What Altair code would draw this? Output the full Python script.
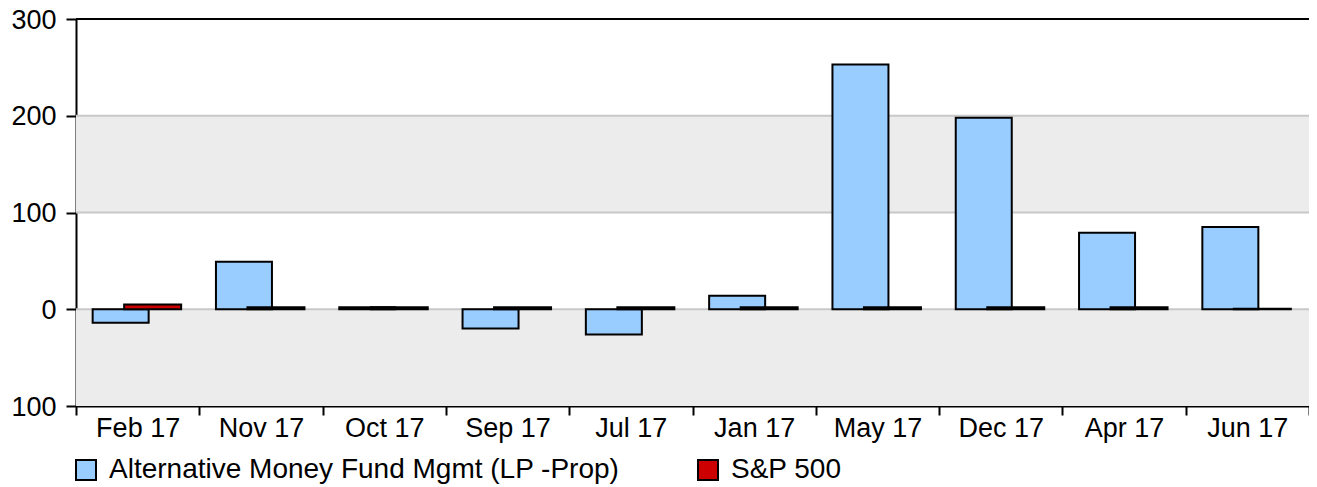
import altair as alt
import pandas as pd

categories = ["Feb 17", "Nov 17", "Oct 17", "Sep 17", "Jul 17", "Jan 17", "May 17", "Dec 17", "Apr 17", "Jun 17"]
fund_values = [-14, 49, 2, -20, -26, 14, 253, 198, 79, 85]
sp_values = [5, 2, 2, 2, 2, 2, 2, 2, 2, 0.5]
series_names = ["Alternative Money Fund Mgmt (LP -Prop)", "S&P 500"]
series_colors = ["#99ccff", "#cc0000"]
y_ticks = [-100, 0, 100, 200, 300]
band_low = [100, -100]
band_high = [200, 0]
grid_vals = [0, 100, 200]

FONT = "Liberation Sans"

fund_df = pd.DataFrame({"cat": categories, "value": fund_values, "series": series_names[0]})
sp_df = pd.DataFrame({"cat": categories, "value": sp_values, "series": series_names[1]})
band_df = pd.DataFrame({"value": band_high, "lo": band_low})
grid_df = pd.DataFrame({"value": grid_vals})
top_df = pd.DataFrame({"value": [300]})

yscale = alt.Scale(domain=[-100, 300], nice=False, zero=False)
xscale = alt.Scale(paddingInner=0, paddingOuter=0)
cscale = alt.Scale(domain=series_names, range=series_colors)

y_axis = alt.Axis(values=y_ticks, labelExpr="abs(datum.value)", tickSize=10, tickWidth=2,
                  domainColor="black", domainWidth=2, tickColor="black",
                  labelFont=FONT, labelFontSize=27, labelColor="black",
                  labelPadding=10, labelOffset=1, grid=False, title=None)
x_axis = alt.Axis(labelAngle=0, tickBand="extent", tickSize=9, tickWidth=2,
                  domainColor="black", domainWidth=2, tickColor="black",
                  labelFont=FONT, labelFontSize=27, labelColor="black",
                  labelPadding=0, grid=False, title=None)

x_enc = alt.X("cat:N", sort=categories, scale=xscale, axis=x_axis)


def y_enc(field="value"):
    return alt.Y(f"{field}:Q", scale=yscale, axis=y_axis)


bands = alt.Chart(band_df).mark_rect(color="#ececec").encode(
    y=y_enc(), y2="lo:Q",
    x=alt.value(0), x2=alt.value({"expr": "width"}))

grid = alt.Chart(grid_df).mark_rule(color="#c8c8c8", strokeWidth=2).encode(
    y=y_enc(), x=alt.value(0), x2=alt.value({"expr": "width"}))

legend = alt.Legend(title=None, orient="none", legendX=-4, legendY=437, direction="horizontal",
                    symbolType="square", symbolSize=400, symbolStrokeColor="black",
                    symbolStrokeWidth=2, labelFont=FONT, labelFontSize=28, labelColor="black",
                    labelLimit=1000, columnPadding=74, labelOffset=9, padding=0)

fund_bars = alt.Chart(fund_df).mark_bar(width=56, xOffset=-17, stroke="black", strokeWidth=2).encode(
    x=x_enc, y=y_enc(),
    color=alt.Color("series:N", scale=cscale, legend=legend))

sp_bars = alt.Chart(sp_df).mark_bar(width=57, xOffset=15, stroke="black", strokeWidth=2).encode(
    x=x_enc, y=y_enc(),
    color=alt.Color("series:N", scale=cscale, legend=legend))

top = alt.Chart(top_df).mark_rule(color="black", strokeWidth=2).encode(
    y=y_enc(), x=alt.value(0), x2=alt.value({"expr": "width"}))

chart = alt.layer(bands, grid, fund_bars, sp_bars, top).properties(
    width=1233, height=387,
    autosize=alt.AutoSizeParams(type="none"),
    padding={"left": 68, "top": 11, "right": 0, "bottom": 81},
).configure_view(stroke="#aaaaaa", strokeWidth=1)

chart.save("out.html", embed_options={"renderer": "svg", "actions": False})
